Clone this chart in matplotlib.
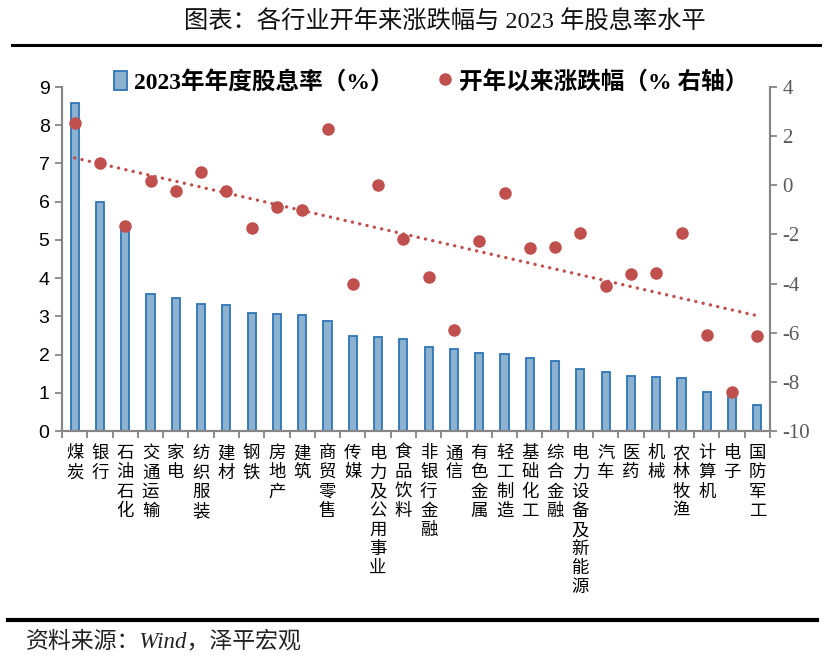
import matplotlib
matplotlib.use("Agg")
import matplotlib.pyplot as plt
from matplotlib.lines import Line2D
from matplotlib.patches import Patch
import numpy as np

plt.rcParams.update({
    "font.family": ["Liberation Serif", "Noto Sans CJK SC"],
    "axes.unicode_minus": False,
})

# ── data ─────────────────────────────────────────────────────────────────────
industries = ["煤炭", "银行", "石油石化", "交通运输", "家电", "纺织服装", "建材",
              "钢铁", "房地产", "建筑", "商贸零售", "传媒", "电力及公用事业",
              "食品饮料", "非银行金融", "通信", "有色金属", "轻工制造", "基础化工",
              "综合金融", "电力设备及新能源", "汽车", "医药", "机械", "农林牧渔",
              "计算机", "电子", "国防军工"]
dividend_yield = [8.57, 5.98, 5.30, 3.59, 3.49, 3.33, 3.30, 3.09, 3.07, 3.04,
                  2.88, 2.49, 2.47, 2.42, 2.20, 2.15, 2.05, 2.02, 1.91, 1.84,
                  1.63, 1.55, 1.44, 1.42, 1.39, 1.02, 0.98, 0.67]
ytd_change = [2.53, 0.90, -1.67, 0.17, -0.24, 0.54, -0.24, -1.75, -0.89, -1.01,
              2.29, -4.03, 0.03, -2.18, -3.74, -5.89, -2.26, -0.32, -2.56, -2.52,
              -1.95, -4.11, -3.62, -3.58, -1.95, -6.11, -8.43, -6.15]

BLUE_EDGE = "#2E75B6"
BLUE_FACE = "#8CB2D0"
RED = "#C0504D"
AXIS_GREY = "#868686"
CJK = ["Liberation Serif", "Noto Sans CJK SC"]

fig = plt.figure(figsize=(8.31, 6.70), dpi=100)
ax = fig.add_axes([62 / 831, 1 - 431 / 670, (770 - 62) / 831, (431 - 87) / 670])
ax2 = ax.twinx()

x = np.arange(len(industries))

# ── bars (left axis) ─────────────────────────────────────────────────────────
ax.bar(x, dividend_yield, width=0.32, color=BLUE_FACE, edgecolor=BLUE_EDGE,
       linewidth=1.3, zorder=2)
ax.set_ylim(0, 9)
ax.set_xlim(-0.5, len(industries) - 0.5)
ax.set_yticks(range(0, 10))
ax.tick_params(axis="y", labelsize=14, length=5, width=1.3, color=AXIS_GREY,
               labelcolor="black", pad=4)
for lab in ax.get_yticklabels():
    lab.set_fontfamily("Liberation Sans")

# category labels stacked vertically, ticks at boundaries
ax.set_xticks(x)
ax.set_xticklabels(["\n".join(n) for n in industries], fontsize=12.5,
                   linespacing=1.26, va="top")
ax.tick_params(axis="x", which="major", length=0, pad=11)
ax.set_xticks(np.arange(-0.5, len(industries), 1.0), minor=True)
ax.tick_params(axis="x", which="minor", length=5, width=1.3, color=AXIS_GREY)

# ── scatter + trend (right axis) ─────────────────────────────────────────────
ax2.plot(x, ytd_change, "o", color=RED, markersize=8, zorder=4)
coef = np.polyfit(x, ytd_change, 1)
ax2.plot(x, np.polyval(coef, x), color=RED, linewidth=2.4,
         linestyle=(0, (0.05, 2.2)), dash_capstyle="round", zorder=3)
ax2.set_ylim(-10, 4)
ax2.set_yticks(range(-10, 5, 2))
ax2.tick_params(axis="y", labelsize=15, length=5, width=1.3, color=AXIS_GREY,
                labelcolor="#595959", pad=4)

for a in (ax, ax2):
    a.spines["top"].set_visible(False)
    for s in ("left", "right", "bottom"):
        a.spines[s].set_color(AXIS_GREY)
        a.spines[s].set_linewidth(1.5)

# ── legend ───────────────────────────────────────────────────────────────────
handles = [Patch(facecolor=BLUE_FACE, edgecolor=BLUE_EDGE, linewidth=1.3),
           Line2D([], [], marker="o", linestyle="none", color=RED, markersize=8)]
labels = ["2023年年度股息率（%）", "开年以来涨跌幅（% 右轴）"]
leg = fig.legend(handles, labels, loc="center left", ncol=2,
                 bbox_to_anchor=(93 / 831, 1 - 82 / 670), frameon=False,
                 prop={"family": CJK, "weight": "bold", "size": 17},
                 handlelength=0.55, handleheight=0.9, handletextpad=0.3,
                 columnspacing=1.9)

# ── title, rules, source ─────────────────────────────────────────────────────
fig.text(445 / 831, 1 - 22 / 670, "图表：各行业开年来涨跌幅与 2023 年股息率水平",
         ha="center", va="center", fontsize=17.5, color="#111111")
fig.add_artist(Line2D([12 / 831, 820 / 831], [1 - 45 / 670] * 2,
                      color="black", linewidth=2.2))
fig.add_artist(Line2D([8 / 831, 817 / 831], [1 - 620 / 670] * 2,
                      color="black", linewidth=3))
fig.text(26 / 831, 1 - 642 / 670, "资料来源：Wind，泽平宏观", ha="left",
         va="center", fontsize=16.5, style="italic", color="#222222")

fig.savefig("out.png", dpi=100)
